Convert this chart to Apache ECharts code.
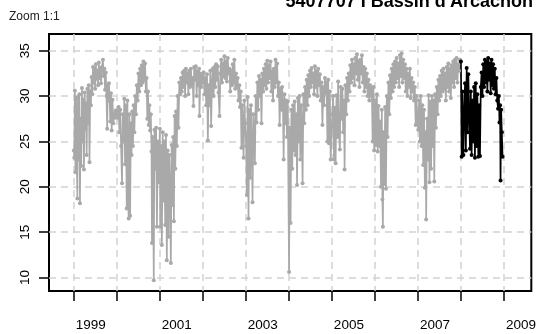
<!DOCTYPE html>
<html>
<head>
<meta charset="utf-8">
<script src="https://cdn.jsdelivr.net/npm/echarts@6/dist/echarts.min.js"></script>
<style>
  html, body { margin: 0; padding: 0; background: #fff; }
  #chart { width: 539px; height: 334px; }
</style>
</head>
<body>
<div id="chart"></div>
<script>
// Salinity readings, [day of year, value], one list per year.
const y1999 = [[3,24.0],[7,23.2],[12,30.6],[17,21.6],[22,29.8],[27,24.5],[33,18.7],[38,29.9],[44,23.0],[50,30.2],[55,18.2],[61,27.5],[66,22.3],[72,30.9],[78,25.0],[84,29.6],[89,21.9],[95,30.4],[101,26.4],[106,29.2],[112,23.5],[118,30.8],[124,27.0],[130,31.2],[136,22.7],[142,30.5],[148,29.0],[154,32.1],[160,30.2],[166,33.2],[172,31.5],[178,33.0],[184,30.8],[190,33.5],[196,31.9],[203,32.8],[209,31.2],[215,33.7],[221,32.0],[228,33.1],[234,31.4],[242,33.2],[250,34.0],[256,32.2],[262,33.0],[268,30.7],[274,32.6],[280,30.0],[286,26.4],[291,31.2],[296,29.5],[301,31.4],[306,30.0],[312,27.2],[318,30.3],[324,26.2],[331,29.6],[338,27.0],[345,28.1],[352,27.6],[359,28.4]];
const y2000 = [[4,28.4],[11,27.6],[18,28.8],[25,26.0],[32,28.5],[39,24.5],[47,20.4],[54,28.0],[60,25.0],[66,29.7],[73,22.5],[80,29.0],[87,17.6],[93,29.5],[99,18.5],[104,16.5],[110,28.0],[116,16.8],[122,27.0],[128,23.5],[134,28.3],[140,24.5],[146,29.0],[152,26.0],[159,30.0],[166,28.0],[173,31.2],[180,29.5],[187,32.5],[194,30.5],[201,33.0],[208,31.2],[215,33.4],[222,31.5],[229,33.8],[236,31.8],[243,33.6],[250,30.5],[256,32.0],[262,27.5],[268,30.5],[274,26.8],[280,29.0],[286,26.2],[292,28.0],[298,23.9],[302,13.8],[307,25.5],[312,20.0],[317,9.7],[323,26.3],[330,22.0],[337,26.5],[344,15.6],[351,25.0],[358,20.5]];
const y2001 = [[3,26.4],[6,15.6],[11,24.5],[20,13.6],[27,26.0],[34,18.5],[41,25.0],[48,15.8],[55,25.7],[62,11.9],[69,24.0],[76,14.5],[83,23.5],[90,19.5],[96,11.6],[103,24.6],[110,18.0],[116,25.5],[122,16.2],[128,27.8],[134,22.0],[140,28.3],[147,24.5],[154,30.0],[161,26.5],[168,31.5],[175,30.2],[182,32.0],[189,30.5],[196,32.6],[203,31.0],[210,32.8],[217,30.0],[224,33.0],[231,31.5],[238,32.5],[245,30.2],[252,32.8],[259,31.0],[266,33.0],[273,31.2],[281,32.0],[288,28.9],[294,33.2],[301,31.8],[308,33.3],[315,30.0],[322,32.7],[329,31.2],[336,33.0],[339,27.8],[346,32.5],[353,31.0],[360,32.2]];
const y2002 = [[3,31.5],[10,32.6],[17,30.2],[24,32.0],[31,29.0],[38,32.4],[45,25.1],[52,31.2],[59,29.0],[66,32.8],[73,26.7],[80,31.5],[87,33.0],[94,30.0],[101,33.2],[108,31.0],[115,33.5],[122,31.8],[129,33.3],[136,30.4],[144,27.8],[151,32.5],[158,34.0],[165,31.5],[172,33.6],[179,32.2],[186,34.4],[193,32.0],[200,33.8],[207,31.6],[214,34.2],[221,32.5],[228,33.0],[235,30.5],[242,32.8],[249,31.2],[256,33.5],[263,31.5],[270,34.0],[277,30.8],[284,32.5],[291,31.0],[298,32.0],[305,29.5],[312,31.2],[318,28.8],[324,30.5],[330,24.3],[336,29.0],[342,26.5],[348,23.2],[355,29.5],[361,27.0]];
const y2003 = [[5,24.5],[11,19.1],[18,29.9],[25,16.5],[32,28.5],[39,21.0],[46,29.0],[53,24.0],[59,18.3],[66,28.0],[73,26.0],[79,22.6],[86,30.0],[93,27.1],[100,31.5],[107,28.5],[114,32.2],[121,30.0],[128,31.8],[135,27.0],[142,32.5],[149,30.5],[156,33.0],[163,31.2],[170,33.5],[177,30.8],[184,33.9],[191,31.5],[198,33.4],[205,32.0],[212,33.8],[219,30.5],[226,32.7],[233,29.5],[240,33.0],[247,31.0],[254,34.0],[261,31.5],[268,33.6],[275,30.0],[282,31.5],[289,26.8],[296,30.8],[303,28.5],[310,31.0],[317,29.0],[323,23.0],[330,30.2],[337,27.0],[344,29.5],[351,25.5],[358,29.4]];
const y2004 = [[4,10.6],[10,26.5],[17,16.0],[24,28.5],[31,22.0],[38,29.0],[45,24.0],[52,29.4],[59,23.5],[66,28.0],[72,20.2],[79,29.8],[86,25.0],[93,30.0],[100,23.0],[107,29.0],[113,26.5],[119,20.4],[126,30.2],[133,27.0],[140,31.0],[147,28.5],[154,31.8],[161,29.0],[168,32.3],[175,30.0],[182,32.8],[189,31.0],[196,33.1],[203,31.5],[210,32.5],[217,30.2],[224,33.3],[231,31.0],[238,32.7],[245,30.0],[252,33.0],[259,31.2],[266,32.4],[273,29.5],[280,31.5],[288,26.8],[295,31.0],[302,29.0],[309,32.0],[316,30.3],[323,31.5],[330,25.0],[337,31.8],[344,24.8],[351,30.5],[358,23.0]];
const y2005 = [[6,28.0],[13,30.0],[20,23.0],[27,28.7],[34,22.6],[41,30.1],[48,25.5],[55,31.6],[62,26.0],[70,24.1],[77,31.0],[84,27.5],[91,30.8],[98,26.0],[105,29.5],[110,21.9],[117,31.2],[124,28.0],[131,32.0],[138,29.5],[145,32.5],[152,30.5],[159,33.4],[166,31.5],[173,34.0],[180,32.0],[187,33.5],[194,31.2],[201,34.2],[208,32.5],[215,34.6],[222,31.8],[229,33.8],[236,31.0],[243,34.0],[250,32.5],[257,34.5],[264,31.5],[271,33.2],[278,30.5],[285,33.0],[292,31.0],[299,32.5],[306,30.0],[313,31.8],[320,29.5],[327,31.2],[334,30.0],[341,30.8],[348,25.0],[355,31.0],[361,24.0]];
const y2006 = [[5,29.5],[12,24.6],[19,30.2],[26,23.9],[33,28.9],[40,24.5],[47,27.2],[54,20.0],[61,28.5],[66,18.6],[70,15.6],[76,26.0],[82,20.3],[89,28.8],[96,19.8],[103,30.0],[110,25.5],[117,31.5],[124,28.0],[131,32.3],[138,29.8],[145,33.0],[152,30.5],[159,33.5],[166,31.0],[173,33.8],[180,31.5],[187,34.2],[194,32.0],[201,33.6],[208,31.0],[215,34.5],[222,32.2],[229,34.7],[236,31.5],[243,34.0],[250,32.0],[257,33.5],[264,30.5],[271,33.0],[278,30.0],[285,32.5],[292,31.0],[299,33.0],[306,29.8],[313,32.0],[320,30.5],[327,31.5],[334,29.5],[341,31.0],[348,26.8],[355,30.0],[362,27.0]];
const y2007 = [[5,26.3],[12,29.5],[19,25.0],[26,30.0],[33,24.5],[40,29.0],[47,22.4],[54,28.5],[61,19.9],[68,26.0],[72,16.4],[79,27.5],[86,23.0],[93,30.1],[100,20.5],[107,29.4],[114,22.0],[121,30.0],[128,24.5],[135,29.5],[141,20.6],[148,30.2],[155,26.5],[162,31.0],[169,28.0],[176,31.8],[183,29.5],[190,32.2],[197,30.0],[204,32.8],[211,30.5],[218,33.0],[225,30.8],[232,32.5],[239,29.5],[246,33.2],[253,31.0],[260,33.6],[267,30.5],[274,33.0],[281,29.8],[288,33.4],[295,31.5],[302,33.8],[309,31.0],[316,34.0],[323,32.0],[330,34.2],[337,31.5],[344,33.5],[351,32.8],[358,34.0]];
// Most recent year, drawn in black
const y2008 = [[2,33.8],[8,23.3],[15,30.5],[23,23.5],[30,28.2],[37,31.4],[44,24.0],[51,33.1],[58,26.0],[65,32.4],[72,28.0],[79,24.2],[86,30.5],[93,23.5],[100,29.5],[107,25.0],[114,31.0],[121,23.2],[128,31.4],[135,24.5],[142,30.2],[150,23.3],[157,29.0],[164,23.4],[171,31.0],[178,32.6],[185,30.0],[192,33.5],[199,31.0],[206,34.0],[213,31.5],[220,33.8],[227,30.5],[234,34.2],[241,31.8],[248,33.6],[255,30.3],[262,34.0],[269,31.2],[276,33.5],[283,30.8],[290,33.0],[297,30.2],[304,32.0],[311,29.5],[318,28.6],[325,30.0],[330,27.1],[335,29.0],[339,20.7],[344,28.5],[350,26.0],[356,23.3]];

const historyYears = [[1999, y1999], [2000, y2000], [2001, y2001], [2002, y2002], [2003, y2003],
                      [2004, y2004], [2005, y2005], [2006, y2006], [2007, y2007]];
const currentYear = [2008, y2008];

const tickYears = [1999, 2000, 2001, 2002, 2003, 2004, 2005, 2006, 2007, 2008, 2009];
const labelYears = [1999, 2001, 2003, 2005, 2007, 2009];
const yTicks = [10, 15, 20, 25, 30, 35];

const LABEL_SHIFT = 0.4; // year labels sit inside their year

function toDecimal(year, rows) {
  const len = (year % 4 === 0) ? 366 : 365;
  return rows.map(r => [year + (r[0] - 0.5) / len, r[1]]);
}

const grayData = [].concat(...historyYears.map(([yr, rows]) => toDecimal(yr, rows)));
const blackData = toDecimal(currentYear[0], currentYear[1]);

const chart = echarts.init(document.getElementById('chart'), null, { renderer: 'canvas' });
const gridLine = { show: true, lineStyle: { color: '#d2d2d2', width: 1.5, type: [7, 5] } };
const font = '"Liberation Sans", Arial, sans-serif';

chart.setOption({
  animation: false,
  backgroundColor: '#fff',
  grid: { left: 49, right: 7, top: 34, bottom: 43, show: true, borderColor: '#000', borderWidth: 2, backgroundColor: 'transparent' },
  xAxis: {
    type: 'value', min: 1998.43, max: 2009.64,
    axisLine: { show: false },
    axisTick: { show: true, length: 10, lineStyle: { color: '#000', width: 1.5 }, customValues: tickYears },
    axisLabel: {
      customValues: labelYears.map(y => y + LABEL_SHIFT),
      formatter: v => String(Math.round(v - LABEL_SHIFT)),
      margin: 27, fontSize: 13.5, color: '#000', fontFamily: font
    },
    splitLine: gridLine
  },
  yAxis: {
    type: 'value', min: 8.52, max: 36.84,
    axisLine: { show: false },
    axisTick: { show: true, length: 10, lineStyle: { color: '#000', width: 1.5 }, customValues: yTicks },
    axisLabel: { customValues: yTicks, rotate: 90, margin: 17, fontSize: 13.5, color: '#000', fontFamily: font },
    splitLine: gridLine
  },
  graphic: [
    { type: 'text', x: 9, y: 16.5, style: { text: 'Zoom 1:1', font: '12px ' + font, fill: '#222', verticalAlign: 'middle', align: 'left' } },
    { type: 'text', x: 533, y: 2, style: { text: "5407707 I Bassin d'Arcachon", font: 'bold 18px ' + font, fill: '#000', verticalAlign: 'middle', align: 'right' } }
  ],
  series: [
    {
      type: 'line', data: grayData, showSymbol: true, showAllSymbol: true,
      symbol: 'circle', symbolSize: 4,
      lineStyle: { color: '#a9a9a9', width: 1.7 }, itemStyle: { color: '#a9a9a9' }
    },
    {
      type: 'line', data: blackData, showSymbol: true, showAllSymbol: true,
      symbol: 'circle', symbolSize: 4,
      lineStyle: { color: '#000', width: 1.7 }, itemStyle: { color: '#000' }
    }
  ]
});
</script>
</body>
</html>
